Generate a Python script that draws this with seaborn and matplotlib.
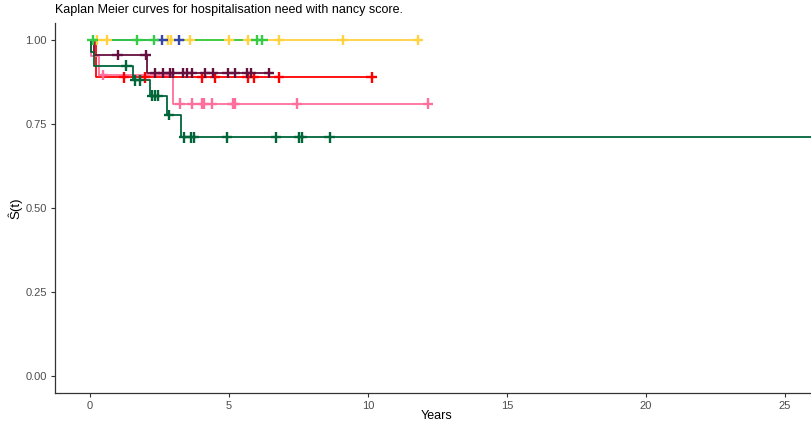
import numpy as np
import pandas as pd
import matplotlib
matplotlib.use("Agg")
import matplotlib.pyplot as plt
import seaborn as sns

# Kaplan-Meier step estimates per nancy-score group:
# event times with survival after each event, last follow-up time, censoring times
groups = ["nancy=A", "nancy=B", "nancy=C", "nancy=D", "nancy=E", "nancy=F", "nancy=G"]
colors = ["#FFD23F", "#3344AA", "#33CC44", "#FF0000", "#FF6F9C", "#66103F", "#00663A"]

yellow_events, yellow_surv = [], []
yellow_end = 11.8
yellow_cens = [0.25, 0.6, 2.8, 2.9, 3.6, 5.0, 5.7, 6.8, 9.1, 11.8]

blue_events, blue_surv = [], []
blue_end = 3.2
blue_cens = [2.6, 3.2]

green_events, green_surv = [], []
green_end = 6.2
green_cens = [0.1, 1.7, 2.3, 6.0, 6.2]

red_events = [0.22]
red_surv = [0.889]
red_end = 10.14
red_cens = [1.22, 1.98, 4.03, 4.5, 5.68, 5.9, 6.8, 10.14]

pink_events = [0.03, 0.33, 3.0]
pink_surv = [0.953, 0.896, 0.81]
pink_end = 12.16
pink_cens = [0.47, 3.24, 3.67, 4.03, 4.1, 4.39, 5.14, 5.22, 7.45, 12.16]

maroon_events = [0.15, 2.05]
maroon_surv = [0.955, 0.902]
maroon_end = 6.44
maroon_cens = [1.0, 2.0, 2.34, 2.63, 2.88, 2.99, 3.35, 3.49, 3.67, 4.14, 4.42,
               4.96, 5.22, 5.65, 5.79, 6.44]

dkgreen_events = [0.02, 0.15, 1.55, 2.16, 2.76, 3.27]
dkgreen_surv = [0.965, 0.923, 0.88, 0.834, 0.777, 0.71]
dkgreen_end = 26.5
dkgreen_cens = [1.3, 1.62, 1.8, 2.23, 2.34, 2.45, 2.84, 3.38, 3.63, 3.74, 4.93,
                6.69, 7.52, 7.63, 8.63, 26.5]

curves = [
    (yellow_events, yellow_surv, yellow_end, yellow_cens),
    (blue_events, blue_surv, blue_end, blue_cens),
    (green_events, green_surv, green_end, green_cens),
    (red_events, red_surv, red_end, red_cens),
    (pink_events, pink_surv, pink_end, pink_cens),
    (maroon_events, maroon_surv, maroon_end, maroon_cens),
    (dkgreen_events, dkgreen_surv, dkgreen_end, dkgreen_cens),
]

step_rows, cens_rows = [], []
for g, (ev, sv, end, cens) in zip(groups, curves):
    times = [0.0] + list(ev) + [end]
    surv = [1.0] + list(sv) + [sv[-1] if sv else 1.0]
    for t, s in zip(times, surv):
        step_rows.append({"group": g, "time": t, "surv": s})
    for c in cens:
        idx = np.searchsorted(np.array(ev), c, side="right")
        s = 1.0 if idx == 0 else sv[idx - 1]
        cens_rows.append({"group": g, "time": c, "surv": s})

steps = pd.DataFrame(step_rows)
marks = pd.DataFrame(cens_rows)
palette = dict(zip(groups, colors))

sns.set_theme(style="white")
plt.rcParams["font.family"] = ["Liberation Sans", "DejaVu Sans"]

fig = plt.figure(figsize=(8.12, 4.23), dpi=100)
W, H = 812, 423
ax = fig.add_axes([55 / W, (H - 392.8) / H, 763 / W, (392.8 - 23.2) / H])

sns.lineplot(data=steps, x="time", y="surv", hue="group", palette=palette,
             estimator=None, sort=False, drawstyle="steps-post",
             linewidth=1.3, legend=False, ax=ax)
sns.scatterplot(data=marks, x="time", y="surv", hue="group", palette=palette,
                marker="+", s=60, linewidth=1.7, legend=False, ax=ax, zorder=3)

ax.set_xlim(-1.26, 26.2)
ax.set_ylim(-0.05, 1.05)
ax.set_xticks([0, 5, 10, 15, 20, 25])
ax.set_yticks([0.0, 0.25, 0.5, 0.75, 1.0])
ax.set_yticklabels(["0.00", "0.25", "0.50", "0.75", "1.00"])

for side in ["top", "right"]:
    ax.spines[side].set_visible(False)
for side in ["left", "bottom"]:
    ax.spines[side].set_color("#333333")
    ax.spines[side].set_linewidth(0.9)
ax.tick_params(axis="both", which="major", length=3, width=0.8, color="#333333",
               labelsize=8, labelcolor="#4D4D4D", pad=3, left=True, bottom=True)

ax.set_xlabel("Years", fontsize=9, color="black", labelpad=-1)
ax.set_ylabel("Ŝ(t)", fontsize=9.5, color="black", labelpad=2)
fig.text(55 / W, 1 - 10 / H, "Kaplan Meier curves for hospitalisation need with nancy score.",
         fontsize=9, color="black", ha="left", va="center")

fig.savefig("out.png", dpi=100)
